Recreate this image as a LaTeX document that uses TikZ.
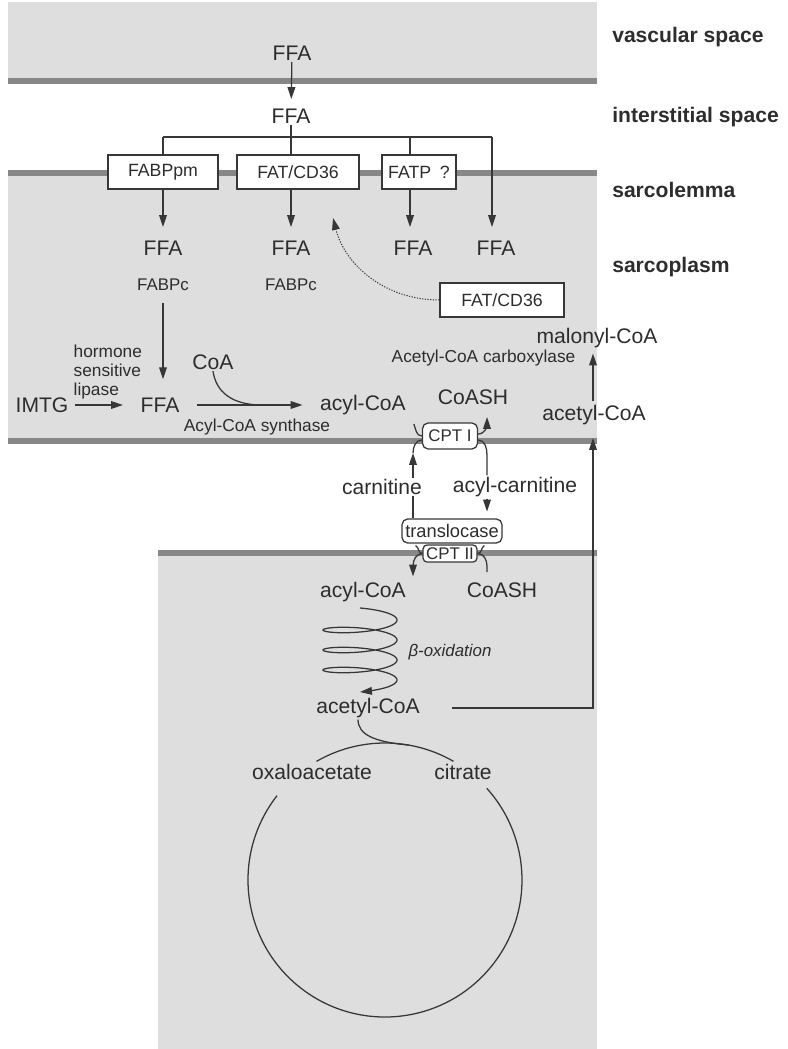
\documentclass[tikz,border=0pt]{standalone}
\usepackage{fontspec}
\setmainfont{Liberation Sans}
\usetikzlibrary{arrows.meta, positioning}

\definecolor{inkgray}{RGB}{45,45,45}
\definecolor{linegray}{RGB}{55,55,55}
\definecolor{spacegray}{RGB}{222,222,222}
\definecolor{membgray}{RGB}{135,135,135}

\begin{document}
\begin{tikzpicture}[x=0.025cm, y=0.025cm, >={Triangle[length=8.5pt, width=5.5pt]}]
    \tikzstyle{lbl} = [text=inkgray, inner sep=1pt, font=\fontsize{15}{17}\selectfont]
    \tikzstyle{enzlbl} = [text=inkgray, inner sep=1pt, font=\fontsize{12.3}{13.6}\selectfont]
    \tikzstyle{region} = [text=inkgray, inner sep=0pt, anchor=west, font=\bfseries\fontsize{15}{17}\selectfont]
    \tikzstyle{carrier} = [draw=linegray, line width=0.9pt, fill=white, rectangle, minimum height=0.85cm, inner sep=0pt, text=inkgray, font=\fontsize{12.6}{14}\selectfont]
    \tikzstyle{enzyme} = [carrier, rounded corners=4pt, font=\fontsize{12}{14}\selectfont]
    \tikzstyle{conn} = [draw=linegray, line width=0.9pt]
    \tikzstyle{membrane} = [draw=membgray, line width=3.6pt]

    \useasboundingbox (0,0) rectangle (787,-1049);

    % compartments and membranes
    \fill[spacegray] (8,-2) rectangle (597,-81);
    \fill[spacegray] (8,-173) rectangle (597,-441);
    \fill[spacegray] (158,-553) rectangle (597,-1049);
    \draw[membrane] (8,-81) -- (597,-81);
    \draw[membrane] (8,-173) -- (597,-173);
    \draw[membrane] (8,-441) -- (597,-441);
    \draw[membrane] (158,-553) -- (597,-553);

    \node[region] (vasc) at (612,-37) {vascular space};
    \node[region] (inter) at (612,-117) {interstitial space};
    \node[region] (sarcolemma) at (612,-190) {sarcolemma};
    \node[region] (sarcoplasm) at (612,-267) {sarcoplasm};

    % uptake over the sarcolemma
    \node[lbl] (ffaVasc) at (292,-53) {FFA};
    \node[lbl] (ffaInter) at (291,-116) {FFA};
    \node[carrier, minimum width=2.75cm] (fabppm) at (163,-172) {FABPpm};
    \node[carrier, minimum width=3.05cm] (fatcd) at (298,-172) {FAT/CD36};
    \node[carrier, minimum width=1.85cm] (fatp) at (419,-172) {FATP\enspace?};
    \node[lbl] (ffaA) at (163,-248) {FFA};
    \node[lbl] (ffaB) at (291,-248) {FFA};
    \node[lbl] (ffaC) at (413,-248) {FFA};
    \node[lbl] (ffaD) at (496,-248) {FFA};
    \node[enzlbl, font=\fontsize{12}{13}\selectfont] (fabpcA) at (163,-285) {FABPc};
    \node[enzlbl, font=\fontsize{12}{13}\selectfont] (fabpcB) at (291,-285) {FABPc};
    \node[carrier, minimum width=3.1cm] (fatcdPool) at (502,-300) {FAT/CD36};

    \coordinate (brA) at (163,-137);
    \coordinate (brB) at (291,-137);
    \coordinate (brC) at (410,-137);
    \coordinate (brD) at (492,-137);
    \coordinate (fatRecycle) at (333,-218);

    \draw[conn, ->, shorten >=0.2cm] (ffaVasc) -- (ffaInter);
    \draw[conn] (ffaInter) -- (brB);
    \draw[conn] (brA) -- (brD);
    \draw[conn] (brA) -- (fabppm);
    \draw[conn] (brB) -- (brB |- fatcd.north);
    \draw[conn] (brC) -- (brC |- fatp.north);
    \draw[conn, ->, shorten >=0.3cm] (brD) -- (brD |- ffaD.north);
    \draw[conn, ->, shorten >=0.3cm] (fabppm) -- (ffaA);
    \draw[conn, ->, shorten >=0.3cm] (brB |- fatcd.south) -- (ffaB);
    \draw[conn, ->, shorten >=0.3cm] (brC |- fatp.south) -- (brC |- ffaC.north);
    \draw[conn, densely dotted, line width=0.7pt, ->] (fatcdPool.west) .. controls (385,-300) and (345,-265) .. (fatRecycle);

    % activation in the sarcoplasm
    \node[lbl] (imtg) at (42,-405) {IMTG};
    \node[lbl] (ffaCyt) at (160,-405) {FFA};
    \node[enzlbl, anchor=west, align=left] (hsl) at (72,-372) {hormone\\sensitive\\lipase};
    \node[lbl] (coa) at (213,-362) {CoA};
    \node[lbl] (acylCyt) at (363,-405) {acyl-CoA};
    \node[enzlbl] (acs) at (257,-427) {Acyl-CoA synthase};
    \coordinate (coaJoin) at (262,-405);

    \draw[conn, ->, shorten <=0.12cm, shorten >=0.4cm] (imtg) -- (ffaCyt);
    \draw[conn, ->, shorten <=0.25cm, shorten >=0.42cm] (fabpcA) -- (fabpcA |- ffaCyt.north);
    \draw[conn, ->, shorten <=0.4cm, shorten >=0.4cm] (ffaCyt) -- (acylCyt);
    \draw[conn] (coa.south) .. controls (216,-392) and (232,-405) .. (coaJoin);

    % carnitine shuttle
    \node[lbl] (coashCyt) at (473,-397) {CoASH};
    \node[enzyme, minimum width=1.375cm, minimum height=0.65cm] (cpt1) at (450,-436) {CPT I};
    \node[lbl] (carnitine) at (382,-487) {carnitine};
    \node[lbl] (acylcarn) at (515,-487) {acyl-carnitine};
    \node[enzyme, minimum width=2.5cm, minimum height=0.6cm, font=\fontsize{13}{14}\selectfont] (transloc) at (452,-531) {translocase};
    \node[enzyme, minimum width=1.35cm, minimum height=0.43cm, rounded corners=3pt] (cpt2) at (450,-553.5) {CPT II};

    \coordinate (carnUp) at (413,-453);
    \coordinate (acarnDown) at (487,-455);
    \coordinate (coashUp) at (487,-417);
    \coordinate (acoaDown) at (413,-566);
    \coordinate (coashDown) at (487,-566);

    \draw[conn] ([xshift=-0.2cm, yshift=0.3cm]cpt1.west) to[out=-70, in=180] (cpt1.west);
    \draw[conn, ->] ([yshift=0.05cm]cpt1.east) to[out=0, in=-90] (coashUp);
    \draw[conn, ->] (carnUp |- carnitine.north) -- (carnUp);
    \draw[conn] (carnUp) to[out=90, in=180] ([yshift=-0.1cm]cpt1.west);
    \draw[conn] (carnUp |- transloc.north) -- (carnUp |- carnitine.south);
    \draw[conn] ([yshift=-0.1cm]cpt1.east) to[out=0, in=90] (acarnDown) -- (acarnDown |- acylcarn.north);
    \draw[conn, ->, shorten >=0.17cm] (acarnDown |- acylcarn.south) -- (acarnDown |- transloc.north);

    \node[lbl] (acylMit) at (363,-592) {acyl-CoA};
    \node[lbl] (coashMit) at (502,-590) {CoASH};

    \draw[conn] ([xshift=-0.17cm, yshift=0.2cm]cpt2.west) to[out=-30, in=180] (cpt2.west);
    \draw[conn, ->, shorten >=0.1cm] (cpt2.west) to[out=180, in=90] (acoaDown) -- (acoaDown |- acylMit.north);
    \draw[conn] ([xshift=0.17cm, yshift=0.2cm]cpt2.east) to[out=-150, in=0] (cpt2.east);
    \draw[conn, shorten >=0.22cm] (cpt2.east) to[out=0, in=90] (coashDown) -- (coashDown |- coashMit.north);

    % beta-oxidation and TCA cycle
    \node[lbl] (acetylMit) at (368,-708) {acetyl-CoA};
    \node[enzlbl, font=\itshape\fontsize{12}{14}\selectfont] (betaox) at (450,-652) {β-oxidation};
    \draw[conn, ->] plot[domain=-90:1170, samples=181, smooth] ({360+37*cos(\x)}, {-620-\x/18-7*sin(\x)});

    \node[lbl] (oxalo) at (312,-772) {oxaloacetate};
    \node[lbl] (citrate) at (463,-772) {citrate};
    \coordinate (tca) at (385,-880);
    \draw[conn] ([shift={(60:137)}]tca) arc[start angle=60, end angle=120, radius=137];
    \draw[conn] ([shift={(142:137)}]tca) arc[start angle=142, end angle=402, radius=137];
    \draw[conn] ([xshift=-0.25cm]acetylMit.south) .. controls (358,-735) and (375,-742) .. ([shift={(80:137)}]tca);

    % acetyl-CoA back to the sarcoplasm
    \node[lbl] (acetylCyt) at (594,-415) {acetyl-CoA};
    \node[lbl] (malonyl) at (597,-338) {malonyl-CoA};
    \node[enzlbl, anchor=east] (acc) at (577,-358) {Acetyl-CoA carboxylase};
    \coordinate (expX) at (593,-708);

    \draw[conn, ->, shorten <=0.78cm, shorten >=0.05cm] (acetylMit.east) -- (expX) -- (expX |- cpt1.center);
    \draw[conn, ->, shorten <=0.05cm, shorten >=0.1cm] (acetylCyt.north -| expX) -- (malonyl.south -| expX);
\end{tikzpicture}
\end{document}
